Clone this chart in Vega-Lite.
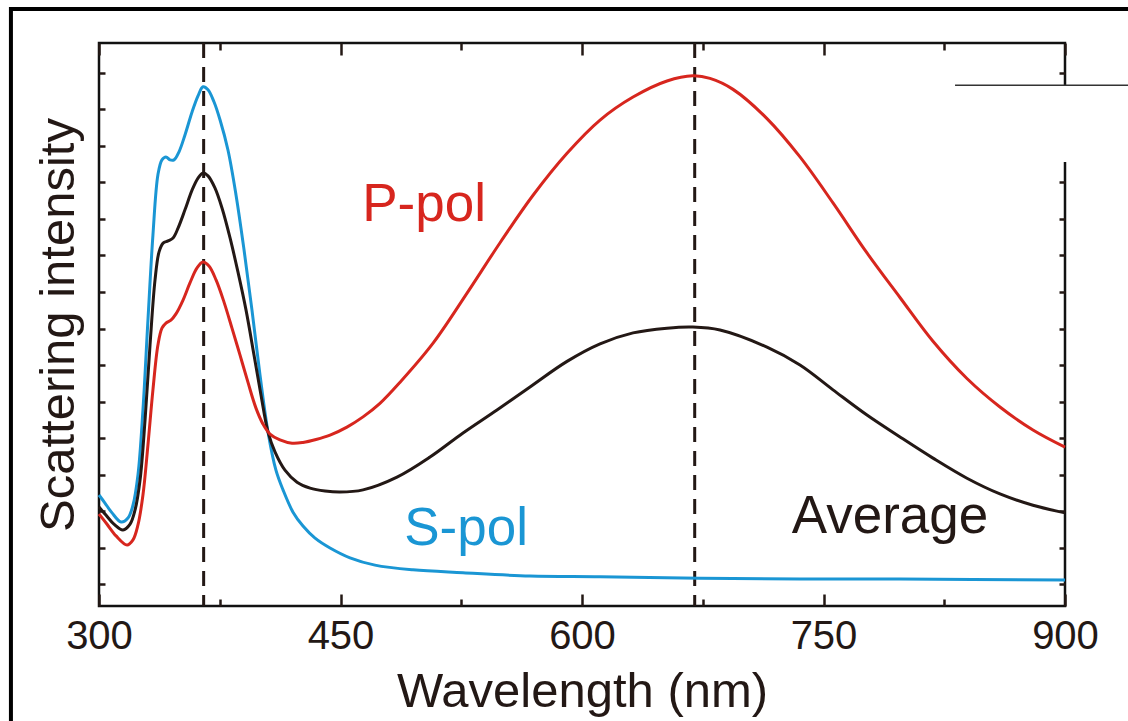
{
  "$schema": "https://vega.github.io/schema/vega-lite/v6.json",
  "autosize": "none",
  "width": 966,
  "height": 563,
  "padding": {"left": 99, "top": 43, "right": 63, "bottom": 115},
  "background": "white",
  "config": {
    "view": {"stroke": "#111111", "strokeWidth": 2.5},
    "font": "Liberation Sans",
    "axis": {"grid": false, "domain": false, "tickColor": "#231815", "tickWidth": 2.5, "labelFont": "Liberation Sans", "titleFont": "Liberation Sans", "labelColor": "#231815", "titleColor": "#231815", "titleFontWeight": "normal"}
  },
  "datasets": {
    "spectra": [
      {"series": "S-pol", "x": 300, "y": 5.44}, {"series": "S-pol", "x": 303.7, "y": 5.22}, {"series": "S-pol", "x": 308.1, "y": 4.95}, {"series": "S-pol", "x": 313.7, "y": 4.70}, {"series": "S-pol", "x": 318.0, "y": 4.81}, {"series": "S-pol", "x": 321.1, "y": 5.16}, {"series": "S-pol", "x": 324.2, "y": 5.99}, {"series": "S-pol", "x": 327.3, "y": 7.77}, {"series": "S-pol", "x": 330.4, "y": 10.23}, {"series": "S-pol", "x": 333.5, "y": 12.56}, {"series": "S-pol", "x": 336.6, "y": 14.21}, {"series": "S-pol", "x": 339.1, "y": 14.62}, {"series": "S-pol", "x": 341.6, "y": 14.70}, {"series": "S-pol", "x": 344.1, "y": 14.62}, {"series": "S-pol", "x": 346.6, "y": 14.62}, {"series": "S-pol", "x": 349.7, "y": 14.84}, {"series": "S-pol", "x": 353.4, "y": 15.30}, {"series": "S-pol", "x": 357.8, "y": 15.93}, {"series": "S-pol", "x": 361.5, "y": 16.37}, {"series": "S-pol", "x": 364.6, "y": 16.62}, {"series": "S-pol", "x": 367.7, "y": 16.54}, {"series": "S-pol", "x": 371.4, "y": 16.21}, {"series": "S-pol", "x": 375.2, "y": 15.71}, {"series": "S-pol", "x": 380.1, "y": 14.89}, {"series": "S-pol", "x": 385.1, "y": 13.66}, {"series": "S-pol", "x": 390.1, "y": 12.15}, {"series": "S-pol", "x": 395.0, "y": 10.51}, {"series": "S-pol", "x": 400.0, "y": 8.73}, {"series": "S-pol", "x": 405.0, "y": 7.16}, {"series": "S-pol", "x": 409.9, "y": 6.12}, {"series": "S-pol", "x": 414.3, "y": 5.58}, {"series": "S-pol", "x": 420.5, "y": 4.97}, {"series": "S-pol", "x": 426.7, "y": 4.59}, {"series": "S-pol", "x": 434.2, "y": 4.26}, {"series": "S-pol", "x": 443.5, "y": 3.99}, {"series": "S-pol", "x": 455.9, "y": 3.72}, {"series": "S-pol", "x": 471.4, "y": 3.52}, {"series": "S-pol", "x": 495.0, "y": 3.39}, {"series": "S-pol", "x": 526.1, "y": 3.31}, {"series": "S-pol", "x": 567.7, "y": 3.22}, {"series": "S-pol", "x": 611.2, "y": 3.20}, {"series": "S-pol", "x": 673.3, "y": 3.16}, {"series": "S-pol", "x": 735.4, "y": 3.14}, {"series": "S-pol", "x": 797.5, "y": 3.14}, {"series": "S-pol", "x": 900, "y": 3.11},
      {"series": "Average", "x": 300, "y": 5.11}, {"series": "Average", "x": 304.3, "y": 4.89}, {"series": "Average", "x": 309.3, "y": 4.64}, {"series": "Average", "x": 314.9, "y": 4.48}, {"series": "Average", "x": 319.3, "y": 4.64}, {"series": "Average", "x": 322.4, "y": 5.03}, {"series": "Average", "x": 325.5, "y": 5.85}, {"series": "Average", "x": 328.6, "y": 7.49}, {"series": "Average", "x": 331.7, "y": 9.55}, {"series": "Average", "x": 334.8, "y": 11.33}, {"series": "Average", "x": 337.3, "y": 12.10}, {"series": "Average", "x": 339.8, "y": 12.34}, {"series": "Average", "x": 342.9, "y": 12.40}, {"series": "Average", "x": 346.0, "y": 12.48}, {"series": "Average", "x": 349.1, "y": 12.75}, {"series": "Average", "x": 353.4, "y": 13.25}, {"series": "Average", "x": 357.8, "y": 13.79}, {"series": "Average", "x": 361.5, "y": 14.12}, {"series": "Average", "x": 364.6, "y": 14.26}, {"series": "Average", "x": 367.7, "y": 14.18}, {"series": "Average", "x": 372.0, "y": 13.85}, {"series": "Average", "x": 376.4, "y": 13.30}, {"series": "Average", "x": 381.4, "y": 12.48}, {"series": "Average", "x": 386.3, "y": 11.55}, {"series": "Average", "x": 391.3, "y": 10.51}, {"series": "Average", "x": 396.3, "y": 9.27}, {"series": "Average", "x": 400.6, "y": 8.18}, {"series": "Average", "x": 405.0, "y": 7.16}, {"series": "Average", "x": 409.3, "y": 6.62}, {"series": "Average", "x": 415.5, "y": 6.12}, {"series": "Average", "x": 423.0, "y": 5.79}, {"series": "Average", "x": 431.1, "y": 5.63}, {"series": "Average", "x": 440.4, "y": 5.55}, {"series": "Average", "x": 449.7, "y": 5.52}, {"series": "Average", "x": 464.0, "y": 5.58}, {"series": "Average", "x": 485.1, "y": 5.93}, {"series": "Average", "x": 505.6, "y": 6.48}, {"series": "Average", "x": 526.1, "y": 7.14}, {"series": "Average", "x": 547.2, "y": 7.77}, {"series": "Average", "x": 567.7, "y": 8.40}, {"series": "Average", "x": 590.7, "y": 9.10}, {"series": "Average", "x": 611.2, "y": 9.58}, {"series": "Average", "x": 631.7, "y": 9.88}, {"series": "Average", "x": 652.8, "y": 10.01}, {"series": "Average", "x": 668.9, "y": 10.04}, {"series": "Average", "x": 685.7, "y": 9.96}, {"series": "Average", "x": 714.9, "y": 9.49}, {"series": "Average", "x": 735.4, "y": 9.00}, {"series": "Average", "x": 755.9, "y": 8.32}, {"series": "Average", "x": 777.0, "y": 7.63}, {"series": "Average", "x": 797.5, "y": 7.03}, {"series": "Average", "x": 818.0, "y": 6.45}, {"series": "Average", "x": 839.1, "y": 5.90}, {"series": "Average", "x": 859.6, "y": 5.47}, {"series": "Average", "x": 880.1, "y": 5.16}, {"series": "Average", "x": 900, "y": 4.95},
      {"series": "P-pol", "x": 300, "y": 4.92}, {"series": "P-pol", "x": 305.0, "y": 4.64}, {"series": "P-pol", "x": 310.6, "y": 4.32}, {"series": "P-pol", "x": 317.4, "y": 4.07}, {"series": "P-pol", "x": 321.1, "y": 4.21}, {"series": "P-pol", "x": 324.2, "y": 4.62}, {"series": "P-pol", "x": 327.3, "y": 5.44}, {"series": "P-pol", "x": 330.4, "y": 6.81}, {"series": "P-pol", "x": 333.5, "y": 8.32}, {"series": "P-pol", "x": 336.6, "y": 9.55}, {"series": "P-pol", "x": 339.1, "y": 10.01}, {"series": "P-pol", "x": 341.6, "y": 10.15}, {"series": "P-pol", "x": 344.7, "y": 10.23}, {"series": "P-pol", "x": 347.8, "y": 10.40}, {"series": "P-pol", "x": 352.2, "y": 10.78}, {"series": "P-pol", "x": 356.5, "y": 11.25}, {"series": "P-pol", "x": 360.9, "y": 11.66}, {"series": "P-pol", "x": 364.6, "y": 11.82}, {"series": "P-pol", "x": 368.3, "y": 11.71}, {"series": "P-pol", "x": 372.7, "y": 11.33}, {"series": "P-pol", "x": 377.6, "y": 10.73}, {"series": "P-pol", "x": 382.6, "y": 10.01}, {"series": "P-pol", "x": 387.6, "y": 9.27}, {"series": "P-pol", "x": 392.5, "y": 8.53}, {"series": "P-pol", "x": 397.5, "y": 7.82}, {"series": "P-pol", "x": 401.9, "y": 7.38}, {"series": "P-pol", "x": 406.2, "y": 7.11}, {"series": "P-pol", "x": 412.4, "y": 6.95}, {"series": "P-pol", "x": 419.9, "y": 6.86}, {"series": "P-pol", "x": 426.7, "y": 6.88}, {"series": "P-pol", "x": 434.8, "y": 6.96}, {"series": "P-pol", "x": 443.5, "y": 7.08}, {"series": "P-pol", "x": 454.0, "y": 7.30}, {"series": "P-pol", "x": 464.0, "y": 7.58}, {"series": "P-pol", "x": 474.5, "y": 7.95}, {"series": "P-pol", "x": 487.0, "y": 8.53}, {"series": "P-pol", "x": 507.5, "y": 9.60}, {"series": "P-pol", "x": 528.6, "y": 10.97}, {"series": "P-pol", "x": 549.1, "y": 12.35}, {"series": "P-pol", "x": 569.6, "y": 13.65}, {"series": "P-pol", "x": 590.7, "y": 14.80}, {"series": "P-pol", "x": 611.2, "y": 15.71}, {"series": "P-pol", "x": 631.7, "y": 16.34}, {"series": "P-pol", "x": 652.8, "y": 16.78}, {"series": "P-pol", "x": 668.9, "y": 16.92}, {"series": "P-pol", "x": 679.5, "y": 16.85}, {"series": "P-pol", "x": 693.8, "y": 16.55}, {"series": "P-pol", "x": 714.9, "y": 15.75}, {"series": "P-pol", "x": 735.4, "y": 14.70}, {"series": "P-pol", "x": 755.9, "y": 13.44}, {"series": "P-pol", "x": 777.0, "y": 12.07}, {"series": "P-pol", "x": 797.5, "y": 10.85}, {"series": "P-pol", "x": 818.0, "y": 9.65}, {"series": "P-pol", "x": 839.1, "y": 8.63}, {"series": "P-pol", "x": 859.6, "y": 7.85}, {"series": "P-pol", "x": 880.1, "y": 7.22}, {"series": "P-pol", "x": 900, "y": 6.75}
    ],
    "peaks": [{"x": 365}, {"x": 670}],
    "labels": [
      {"series": "P-pol", "x": 501.9, "y": 12.95},
      {"series": "S-pol", "x": 528.0, "y": 4.08},
      {"series": "Average", "x": 791.3, "y": 4.40}
    ],
    "frame": [{"x": 245.3, "x2": 1000, "y": -2, "y2": 18.75}],
    "patch": [{"x": 884.5, "x2": 1000, "y": 14.56, "y2": 16.64}],
    "edge": [{"x": 831.7, "x2": 1000, "y": 16.66}]
  },
  "layer": [
    {
      "data": {"name": "frame"},
      "mark": {"type": "rect", "fill": null, "fillOpacity": 0, "stroke": "#000000", "strokeWidth": 4, "clip": false},
      "encoding": {
        "x": {"field": "x", "type": "quantitative", "axis": null, "scale": {"domain": [300, 900], "nice": false}}, "x2": {"field": "x2"},
        "y": {"field": "y", "type": "quantitative", "axis": null, "scale": {"domain": [2.4, 17.82], "nice": false, "zero": false}}, "y2": {"field": "y2"}
      }
    },
    {
      "data": {"name": "peaks"},
      "mark": {"type": "rule", "color": "#231815", "strokeWidth": 3, "strokeDash": [15, 9]},
      "encoding": {"x": {"field": "x", "type": "quantitative", "axis": null, "scale": {"domain": [300, 900], "nice": false}}}
    },
    {
      "data": {"name": "spectra"},
      "mark": {"type": "line", "strokeWidth": 3, "interpolate": "catmull-rom"},
      "encoding": {
        "x": {"field": "x", "type": "quantitative", "scale": {"domain": [300, 900], "nice": false},
          "axis": {"orient": "bottom", "values": [300, 375, 450, 525, 600, 675, 750, 825, 900], "format": "d",
            "labelExpr": "datum.value % 150 === 0 ? datum.label : ''", "labelFlush": false, "labelOverlap": false,
            "tickSize": {"condition": {"test": "datum.value % 150 === 0", "value": -12}, "value": -7},
            "labelFontSize": 40, "labelPadding": 22, "labelLimit": 0, "title": "Wavelength (nm)", "titleFontSize": 49, "titlePadding": 6}},
        "y": {"field": "y", "type": "quantitative", "scale": {"domain": [2.4, 17.82], "nice": false, "zero": false},
          "axis": {"orient": "left", "values": [3,4,5,6,7,8,9,10,11,12,13,14,15,16,17], "labels": false, "tickSize": -6,
            "title": "Scattering intensity", "titleFontSize": 49, "titlePadding": 14}},
        "color": {"field": "series", "type": "nominal", "legend": null,
          "scale": {"domain": ["P-pol", "S-pol", "Average"], "range": ["#d7261e", "#1a96d4", "#231815"]}},
        "order": {"field": "x", "type": "quantitative"}
      }
    },
    {
      "data": {"name": "labels"},
      "mark": {"type": "text", "fontSize": 53, "font": "Liberation Sans", "align": "center", "baseline": "alphabetic"},
      "encoding": {
        "x": {"field": "x", "type": "quantitative", "scale": {"domain": [300, 900], "nice": false},
          "axis": {"orient": "top", "values": [300, 375, 450, 525, 600, 675, 750, 825, 900], "labels": false, "title": null,
            "tickSize": {"condition": {"test": "datum.value % 150 === 0", "value": -12}, "value": -7}}},
        "y": {"field": "y", "type": "quantitative", "scale": {"domain": [2.4, 17.82], "nice": false, "zero": false},
          "axis": {"orient": "right", "values": [3,4,5,6,7,8,9,10,11,12,13,14,15,16,17], "labels": false, "tickSize": -6, "title": null}},
        "text": {"field": "series"},
        "color": {"field": "series", "type": "nominal", "legend": null}
      }
    },
    {
      "data": {"name": "patch"},
      "mark": {"type": "rect", "fill": "white", "clip": false},
      "encoding": {
        "x": {"field": "x", "type": "quantitative", "axis": null, "scale": {"domain": [300, 900], "nice": false}}, "x2": {"field": "x2"},
        "y": {"field": "y", "type": "quantitative", "axis": null, "scale": {"domain": [2.4, 17.82], "nice": false, "zero": false}}, "y2": {"field": "y2"}
      }
    },
    {
      "data": {"name": "edge"},
      "mark": {"type": "rule", "color": "#333333", "strokeWidth": 1.5, "clip": false},
      "encoding": {
        "x": {"field": "x", "type": "quantitative", "axis": null, "scale": {"domain": [300, 900], "nice": false}}, "x2": {"field": "x2"},
        "y": {"field": "y", "type": "quantitative", "axis": null, "scale": {"domain": [2.4, 17.82], "nice": false, "zero": false}}
      }
    }
  ],
  "resolve": {"axis": {"x": "independent", "y": "independent"}}
}
